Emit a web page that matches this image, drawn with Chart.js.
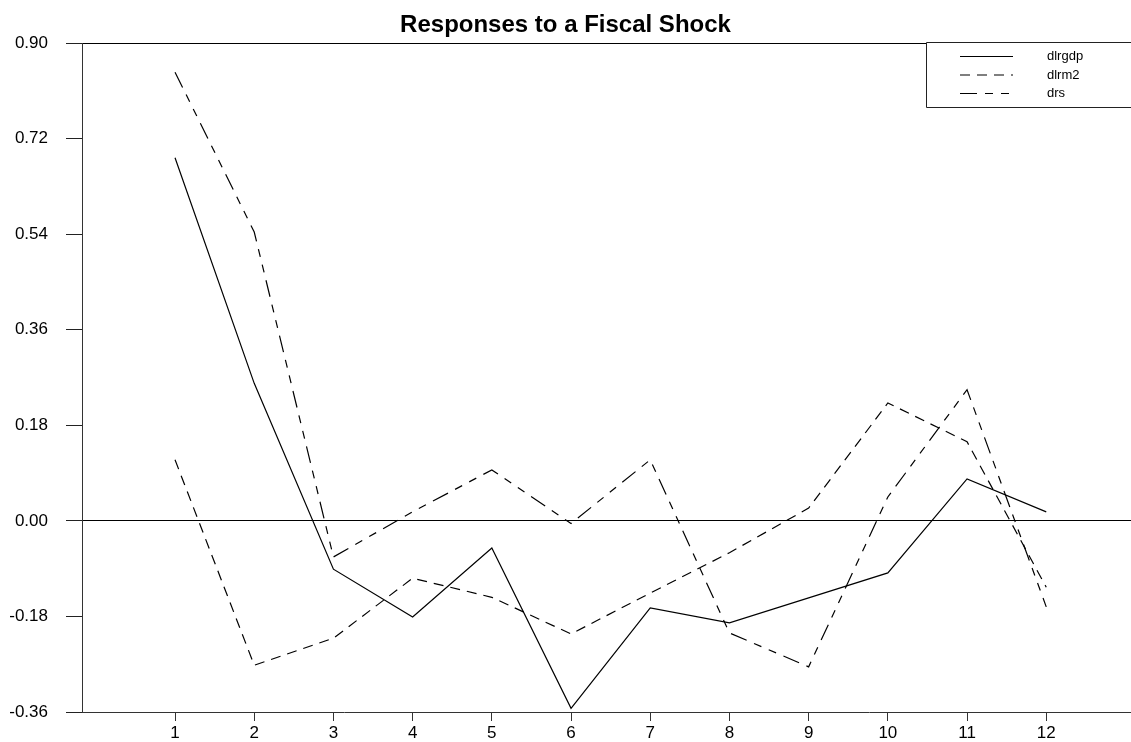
<!DOCTYPE html>
<html>
<head>
<meta charset="utf-8">
<script src="https://cdn.jsdelivr.net/npm/chart.js@4"></script>
<style>
  html, body { margin: 0; padding: 0; background: #fff; }
  #wrap { width: 1131px; height: 742px; }
</style>
</head>
<body>
<div id="wrap"><canvas id="irf" width="1131" height="742"></canvas></div>
<script>
// horizon steps and y tick values
const categories = [1, 2, 3, 4, 5, 6, 7, 8, 9, 10, 11, 12];
const yTicks = [-0.36, -0.18, 0, 0.18, 0.36, 0.54, 0.72, 0.90];

// impulse responses
const dlrgdp = [0.684, 0.259, -0.091, -0.181, -0.051, -0.353, -0.164, -0.192, -0.145, -0.098, 0.079, 0.017];
const dlrm2  = [0.115, -0.272, -0.221, -0.108, -0.144, -0.213, -0.136, -0.060, 0.024, 0.222, 0.149, -0.125];
const drs    = [0.845, 0.544, -0.068, 0.017, 0.096, -0.005, 0.115, -0.211, -0.275, 0.045, 0.247, -0.162];

const FONT = '"Liberation Sans", Arial, sans-serif';
const dashM2 = [10, 7];
const dashRs = [17, 8, 8, 8, 8, 8];

const toPoints = arr => arr.map((v, i) => ({ x: categories[i], y: v }));

// legend box in the upper right corner
const legendBox = {
  id: 'legendBox',
  afterDraw(chart) {
    const c = chart.ctx;
    const items = [
      { label: 'dlrgdp', dash: [] },
      { label: 'dlrm2', dash: dashM2 },
      { label: 'drs', dash: dashRs }
    ];
    c.save();
    c.fillStyle = '#fff';
    c.fillRect(926, 42, 210, 65);
    c.strokeStyle = '#222';
    c.lineWidth = 1;
    c.setLineDash([]);
    c.beginPath();
    c.moveTo(1131, 42.5);
    c.lineTo(926.5, 42.5);
    c.lineTo(926.5, 107.5);
    c.lineTo(1131, 107.5);
    c.stroke();
    c.font = '13px ' + FONT;
    c.textBaseline = 'middle';
    items.forEach((it, i) => {
      const y = 56.5 + i * 18.5;
      c.strokeStyle = '#000';
      c.lineWidth = 1.2;
      c.setLineDash(it.dash);
      c.beginPath();
      c.moveTo(960, y);
      c.lineTo(1013, y);
      c.stroke();
      c.fillStyle = '#000';
      c.fillText(it.label, 1047, y);
    });
    c.restore();
  }
};

const lineStyle = (label, data, dash) => ({
  label: label,
  data: toPoints(data),
  borderColor: '#000',
  borderWidth: 1.2,
  borderDash: dash,
  pointRadius: 0,
  fill: false,
  tension: 0
});

new Chart(document.getElementById('irf').getContext('2d'), {
  type: 'line',
  data: {
    datasets: [
      lineStyle('dlrgdp', dlrgdp, []),
      lineStyle('dlrm2', dlrm2, dashM2),
      lineStyle('drs', drs, dashRs)
    ]
  },
  options: {
    responsive: false,
    animation: false,
    layout: { padding: 0 },
    plugins: {
      legend: { display: false },
      tooltip: { enabled: false },
      title: {
        display: true,
        text: 'Responses to a Fiscal Shock',
        color: '#000',
        font: { family: FONT, size: 24, weight: 'bold', lineHeight: 1.2 },
        padding: { top: 11, bottom: 3.2 }
      }
    },
    scales: {
      x: {
        type: 'linear',
        min: -0.1745,
        max: 13.07,
        afterBuildTicks: s => { s.ticks = categories.map(v => ({ value: v })); },
        afterFit: s => { s.height = 30; },
        border: { display: true, color: '#333', width: 1 },
        grid: { drawOnChartArea: false, drawTicks: true, tickLength: 9, tickColor: '#333' },
        ticks: {
          color: '#000',
          padding: 2,
          maxRotation: 0,
          font: { family: FONT, size: 17 },
          callback: v => String(v)
        }
      },
      y: {
        min: -0.36,
        max: 0.90,
        afterBuildTicks: s => { s.ticks = yTicks.map(v => ({ value: v })); },
        afterFit: s => { s.width = 82; },
        border: { display: true, color: '#333', width: 1 },
        grid: {
          drawOnChartArea: true,
          drawTicks: true,
          tickLength: 16,
          tickColor: '#222',
          lineWidth: 1,
          color: ctx => (ctx.tick && (Math.abs(ctx.tick.value) < 1e-9 || Math.abs(ctx.tick.value - 0.9) < 1e-9)) ? '#000' : 'rgba(0,0,0,0)'
        },
        ticks: {
          color: '#000',
          padding: 18,
          font: { family: FONT, size: 17 },
          callback: v => Number(v).toFixed(2)
        }
      }
    }
  },
  plugins: [legendBox]
});
</script>
</body>
</html>
